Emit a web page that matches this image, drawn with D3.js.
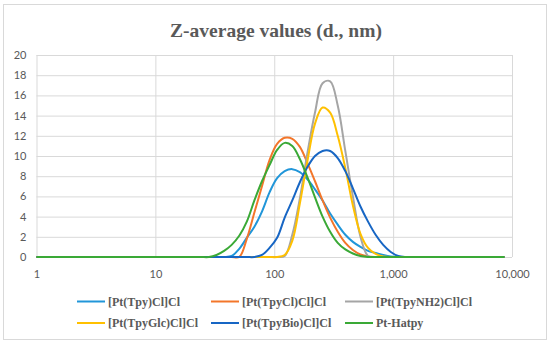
<!DOCTYPE html>
<html>
<head>
<meta charset="utf-8">
<script src="https://cdn.jsdelivr.net/npm/d3@7"></script>
<style>
  body { margin: 0; background: #fff; }
  .tick text { font-family: Lato, "Liberation Sans", sans-serif; font-size: 11px; fill: #595959; }
  .grid line { stroke: #d9d9d9; stroke-width: 1; }
  .legend text { font-family: "Liberation Serif", "Times New Roman", serif; font-weight: bold; font-size: 12px; fill: #595959; }
</style>
</head>
<body>
<svg id="chart" width="550" height="346"></svg>
<script>
// size bins (d., nm)
const sizes = [0.9649, 1.117, 1.294, 1.499, 1.736, 2.01, 2.328, 2.696, 3.122, 3.615, 4.187, 4.849, 5.615, 6.503, 7.531, 8.721,
  10.1, 11.7, 13.54, 15.69, 18.17, 21.04, 24.36, 28.21, 32.67, 37.84, 43.82, 50.75, 58.77, 68.06, 78.82, 91.28,
  105.7, 122.4, 141.8, 164.2, 190.1, 220.2, 255.0, 295.3, 342.0, 396.1, 458.7, 531.2, 615.1, 712.4, 825.0, 955.4,
  1106, 1281, 1484, 1718, 1990, 2305, 2669, 3091, 3580, 4145, 4801, 5560, 6439, 7456, 8635];

// series values, one per size bin
const tpy    = [0,0,0,0,0,0,0,0,0,0,0,0,0,0,0,0, 0,0,0,0,0,0,0, 0,0,0,0.1,0.8,1.9,3.0,4.5,6.4, 7.8,8.5,8.7,8.4,7.7,6.7,5.6,4.3,3.2,2.2,1.5,1.0,0.6,0.4,0.2,0.05, 0,0,0,0,0,0,0,0,0,0,0,0,0,0,0];
const tpyCl  = [0,0,0,0,0,0,0,0,0,0,0,0,0,0,0,0, 0,0,0,0,0,0,0, 0,0,0,0,0,1.8,4.4,7.0,9.6, 11.2,11.8,11.7,10.9,9.3,7.5,5.6,3.9,2.5,1.4,0.7,0.25,0.05,0,0,0, 0,0,0,0,0,0,0,0,0,0,0,0,0,0,0];
const tpyNH2 = [0,0,0,0,0,0,0,0,0,0,0,0,0,0,0,0, 0,0,0,0,0,0,0, 0,0,0,0,0,0,0,0,0, 0,0.1,2.2,5.8,10.3,14.3,17.2,17.4,15.0,10.5,6.0,2.0,0.1,0,0,0, 0,0,0,0,0,0,0,0,0,0,0,0,0,0,0];
const tpyGlc = [0,0,0,0,0,0,0,0,0,0,0,0,0,0,0,0, 0,0,0,0,0,0,0, 0,0,0,0,0,0,0,0,0, 0,0.2,1.6,5.3,9.5,13.2,14.8,14.3,12.0,8.8,5.1,2.3,0.9,0.3,0.05,0, 0,0,0,0,0,0,0,0,0,0,0,0,0,0,0];
const tpyBio = [0,0,0,0,0,0,0,0,0,0,0,0,0,0,0,0, 0,0,0,0,0,0,0, 0,0,0,0,0,0,0,0.2,0.9, 1.9,3.9,5.6,7.4,8.9,10.0,10.5,10.5,9.8,8.5,6.8,5.0,3.5,2.2,1.2,0.5, 0.1,0,0,0,0,0,0,0,0,0,0,0,0,0,0];
const hatpy  = [0,0,0,0,0,0,0,0,0,0,0,0,0,0,0,0, 0,0,0,0,0,0,0, 0,0.2,0.6,1.2,2.1,3.5,5.6,7.5,9.1, 10.6,11.3,11.0,9.7,7.9,5.9,4.0,2.5,1.4,0.75,0.35,0.1,0,0,0,0, 0,0,0,0,0,0,0,0,0,0,0,0,0,0,0];

const seriesNames = ["[Pt(Tpy)Cl]Cl", "[Pt(TpyCl)Cl]Cl", "[Pt(TpyNH2)Cl]Cl", "[Pt(TpyGlc)Cl]Cl", "[Pt(TpyBio)Cl]Cl", "Pt-Hatpy"];
const seriesColors = ["#2196d9", "#f3762a", "#a5a5a5", "#ffc000", "#1766c4", "#3aa936"];
const xTicks = [1, 10, 100, 1000, 10000];
const yTicks = [0, 2, 4, 6, 8, 10, 12, 14, 16, 18, 20];

const series = [tpy, tpyCl, tpyNH2, tpyGlc, tpyBio, hatpy].map((vals, i) => ({
  name: seriesNames[i],
  color: seriesColors[i],
  points: vals.map((v, j) => ({ size: sizes[j], value: v }))
}));

const svg = d3.select("#chart");

// outer chart border
svg.append("rect")
  .attr("x", 3.5).attr("y", 4.5)
  .attr("width", 543).attr("height", 335)
  .attr("fill", "#fff")
  .attr("stroke", "#d9d9d9");

svg.append("text")
  .attr("x", 276).attr("y", 37)
  .attr("text-anchor", "middle")
  .attr("font-family", "'Liberation Serif', 'Times New Roman', serif")
  .attr("font-weight", "bold")
  .attr("font-size", 19.5)
  .attr("fill", "#595959")
  .text("Z-average values (d., nm)");

const plotLeft = 36.5, plotRight = 512, plotTop = 55, plotBottom = 257;

const x = d3.scaleLog().domain([1, 10000]).range([plotLeft, plotRight]);
const y = d3.scaleLinear().domain([0, 20]).range([plotBottom, plotTop]);

// gridlines + labels
const yAxis = d3.axisLeft(y)
  .tickValues(yTicks)
  .tickSizeInner(-(plotRight - plotLeft))
  .tickSizeOuter(0)
  .tickPadding(10);

svg.append("g")
  .attr("class", "grid")
  .attr("transform", `translate(${plotLeft},0)`)
  .call(yAxis)
  .call(g => g.select(".domain").remove());

const xAxis = d3.axisBottom(x)
  .tickValues(xTicks)
  .tickFormat(d3.format(","))
  .tickSizeInner(-(plotBottom - plotTop))
  .tickSizeOuter(0)
  .tickPadding(13);

svg.append("g")
  .attr("class", "grid")
  .attr("transform", `translate(0,${plotBottom})`)
  .call(xAxis)
  .call(g => g.select(".domain").remove());

svg.append("clipPath")
  .attr("id", "plot-clip")
  .append("rect")
  .attr("x", plotLeft).attr("y", plotTop - 5)
  .attr("width", plotRight - plotLeft).attr("height", plotBottom - plotTop + 10);

// smoothed lines like Excel's "smooth line" option
const line = d3.line()
  .x(d => x(d.size))
  .y(d => y(d.value))
  .curve(d3.curveCatmullRom.alpha(0.5));

svg.append("g")
  .attr("clip-path", "url(#plot-clip)")
  .selectAll("path")
  .data(series)
  .join("path")
  .attr("fill", "none")
  .attr("stroke", d => d.color)
  .attr("stroke-width", 2)
  .attr("stroke-linejoin", "round")
  .attr("d", d => line(d.points));

// legend, 3 columns x 2 rows
const legend = svg.append("g").attr("class", "legend");

const item = legend.selectAll("g")
  .data(series)
  .join("g")
  .attr("transform", (d, i) => `translate(${77 + (i % 3) * 134},${i < 3 ? 301.5 : 323})`);

item.append("line")
  .attr("x1", 0).attr("x2", 28)
  .attr("stroke", d => d.color)
  .attr("stroke-width", 2);

item.append("text")
  .attr("x", 31)
  .attr("dy", "0.35em")
  .text(d => d.name);
</script>
</body>
</html>
